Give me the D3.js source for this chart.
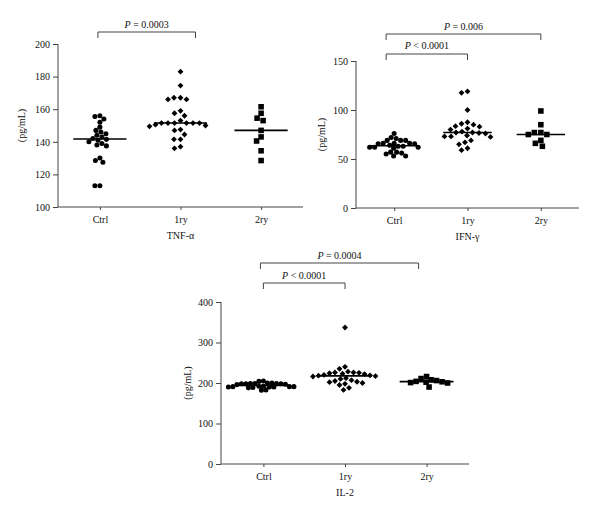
<!DOCTYPE html>
<html><head><meta charset="utf-8">
<script src="https://cdn.jsdelivr.net/npm/d3@7"></script>
<style>body{margin:0;background:#fff}svg{display:block}text{font-family:"Liberation Serif","DejaVu Serif",serif;fill:#111}</style>
</head><body>
<svg id="c" width="600" height="520"></svg>
<script>
const categories = ["Ctrl", "1ry", "2ry"];
const panelTitles = ["TNF-α", "IFN-γ", "IL-2"];
const yLabel = "(pg/mL)";

const tnfCtrl = [156, 155.5, 154, 152, 149, 147, 146, 145, 144, 143, 142, 141.5, 141, 140, 139, 138, 137.5, 130, 128.5, 127.5, 113, 113];
const tnf1ry = [183, 174.5, 167, 166, 166, 167, 159, 157.5, 156, 153, 151.5, 151.5, 151.5, 151.5, 151.5, 151.5, 150.5, 150, 149.5, 147.5, 147, 144.5, 141.5, 141.5, 137, 136];
const tnf2ry = [161.5, 157.5, 154.5, 153, 147, 143, 140.5, 134.5, 128.5];

const ifnCtrl = [76, 72, 71, 69, 69, 69, 66, 66, 66, 65.5, 65.5, 64, 63, 63, 62, 62, 62, 61, 57, 57, 56, 55, 53, 53];
const ifn1ry = [119, 117.5, 100, 87.5, 86, 85, 83.5, 83, 81, 80, 78, 77, 77, 76.5, 76, 74, 73, 73, 72.5, 69, 67, 65, 61, 59];
const ifn2ry = [99, 85, 77, 77, 75, 75, 69, 66, 63];

const il2Ctrl = [205, 204, 200, 200, 199, 199, 199, 198, 198, 198, 197, 196, 192, 192, 191, 191, 191, 190, 190, 190, 189, 188, 183, 182];
const il21ry = [337, 240, 235, 228, 226, 226, 225, 224, 223, 222, 220, 219, 218, 217, 216, 212, 210, 207, 205, 203, 202, 200, 198, 195, 188, 183];
const il22ry = [216, 211, 208, 206, 204, 203, 202, 201, 200, 190];

const tnfTicks = [100, 120, 140, 160, 180, 200];
const ifnTicks = [0, 50, 100, 150];
const il2Ticks = [0, 100, 200, 300, 400];

const tnfComparisons = [{from: "Ctrl", to: "1ry", label: "0.0003", op: "="}];
const ifnComparisons = [{from: "Ctrl", to: "1ry", label: "0.0001", op: "<"}, {from: "Ctrl", to: "2ry", label: "0.006", op: "="}];
const il2Comparisons = [{from: "Ctrl", to: "1ry", label: "0.0001", op: "<"}, {from: "Ctrl", to: "2ry", label: "0.0004", op: "="}];

const panels = [
  {title: panelTitles[0], groups: [tnfCtrl, tnf1ry, tnf2ry], ticks: tnfTicks, comps: tnfComparisons, overlap: 0.95,
   x0: 58, x1: 303, yTop: 44, yBot: 207, labX: 25, brY: [32], txtY: [28], brOff: [[-2, 15]]},
  {title: panelTitles[1], groups: [ifnCtrl, ifn1ry, ifn2ry], ticks: ifnTicks, comps: ifnComparisons, overlap: 0.95,
   x0: 356, x1: 579, yTop: 61, yBot: 208, labX: 325, brY: [54, 34], txtY: [49, 30], brOff: [[-8, 0], [-8, 0]]},
  {title: panelTitles[2], groups: [il2Ctrl, il21ry, il22ry], ticks: il2Ticks, comps: il2Comparisons, overlap: 0.78,
   x0: 221, x1: 469, yTop: 302, yBot: 464, labX: 191, brY: [283, 263], txtY: [279, 259], brOff: [[0, 0], [-3, -8]]}
];

const shapes = [
  {type: d3.symbolCircle, size: 20, rot: 0, d: 5},
  {type: d3.symbolSquare, size: 17, rot: 45, d: 6.2},
  {type: d3.symbolSquare, size: 31, rot: 0, d: 6.2}
];

const svg = d3.select("#c");

function dodge(vals, y, d, f) {
  const order = vals.map((v, i) => i).sort((a, b) => vals[b] - vals[a]);
  const placed = [];
  const out = new Array(vals.length);
  for (const i of order) {
    const py = y(vals[i]);
    let best = 0;
    for (let k = 0; k < 400; k++) {
      const off = (k % 2 === 0 ? 1 : -1) * Math.ceil(k / 2) * 0.5;
      const ok = placed.every(p => (p.x - off) ** 2 + (p.y - py) ** 2 >= d * d * f);
      if (ok) { best = off; break; }
    }
    placed.push({x: best, y: py});
    out[i] = {v: vals[i], dx: best, y: py};
  }
  return out;
}

panels.forEach(P => {
  const g = svg.append("g");
  const y = d3.scaleLinear().domain(d3.extent(P.ticks)).range([P.yBot, P.yTop]);
  const x = d3.scalePoint().domain(categories).range([P.x0, P.x1]).padding(0.52);
  const step = x.step();

  const ya = g.append("g").attr("transform", `translate(${P.x0},0)`)
    .call(d3.axisLeft(y).tickValues(P.ticks).tickSize(5).tickPadding(3).tickFormat(d3.format("d")));
  const xa = g.append("g").attr("transform", `translate(0,${P.yBot})`)
    .call(d3.axisBottom(x).tickSize(3).tickPadding(6).tickSizeOuter(0));
  [ya, xa].forEach(a => {
    a.select(".domain").attr("stroke", "#444").attr("stroke-width", 1);
    a.selectAll(".tick line").attr("stroke", "#444");
    a.selectAll("text").attr("font-family", "Liberation Serif").attr("font-size", 10).attr("fill", "#111");
  });
  ya.select(".domain").attr("d", `M0,${P.yTop}V${P.yBot}`);
  xa.select(".domain").attr("d", `M${P.x0},0H${P.x1}`);

  g.append("text").attr("x", (P.x0 + P.x1) / 2).attr("y", P.yBot + 32)
    .attr("text-anchor", "middle").attr("font-size", 10).text(P.title);
  g.append("text").attr("transform", `translate(${P.labX},${(P.yTop + P.yBot) / 2}) rotate(-90)`)
    .attr("text-anchor", "middle").attr("font-size", 10).text(yLabel);

  P.groups.forEach((vals, gi) => {
    const sh = shapes[gi];
    const cx = x(categories[gi]);
    const pts = dodge(vals, y, sh.d, P.overlap);
    const sym = d3.symbol().type(sh.type).size(sh.size);
    g.append("g").selectAll("path").data(pts).join("path")
      .attr("d", sym)
      .attr("transform", p => `translate(${cx + p.dx},${p.y}) rotate(${sh.rot})`)
      .attr("fill", "#000");
    const med = d3.median(vals);
    g.append("line").attr("x1", cx - step * 0.33).attr("x2", cx + step * 0.33)
      .attr("y1", y(med)).attr("y2", y(med)).attr("stroke", "#000").attr("stroke-width", 1.6);
  });

  P.comps.forEach((c, ci) => {
    const xa1 = x(c.from) + P.brOff[ci][0];
    const xa2 = x(c.to) + P.brOff[ci][1];
    const by = P.brY[ci];
    g.append("path").attr("d", `M${xa1},${by + 6}V${by}H${xa2}V${by + 6}`)
      .attr("fill", "none").attr("stroke", "#444").attr("stroke-width", 1);
    const t = g.append("text").attr("x", (xa1 + xa2) / 2).attr("y", P.txtY[ci])
      .attr("text-anchor", "middle").attr("font-size", 10);
    t.append("tspan").attr("font-style", "italic").text("P");
    t.append("tspan").text(` ${c.op} ${c.label}`);
  });
});
</script>
</body></html>
